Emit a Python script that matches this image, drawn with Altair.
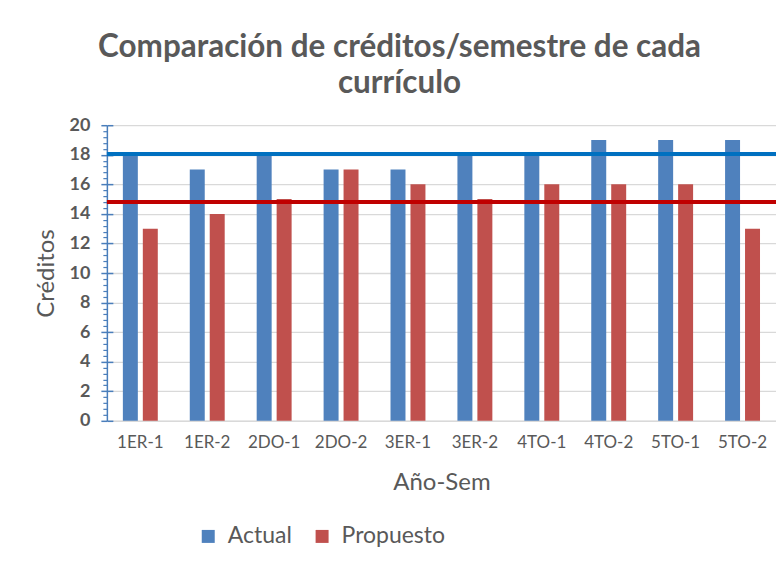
import altair as alt
import pandas as pd

categories = ["1ER-1", "1ER-2", "2DO-1", "2DO-2", "3ER-1", "3ER-2", "4TO-1", "4TO-2", "5TO-1", "5TO-2"]
actual = [18, 17, 18, 17, 17, 18, 18, 19, 19, 19]
propuesto = [13, 14, 15, 17, 16, 15, 16, 16, 16, 13]
series = ["Actual", "Propuesto"]
series_colors = ["#4f81bd", "#c0504d"]
ref_values = [18.05, 14.8]
ref_colors = ["#0070c0", "#c00000"]
y_major = [0, 2, 4, 6, 8, 10, 12, 14, 16, 18, 20]
y_minor = [0.4, 0.8, 1.2, 1.6, 2.4, 2.8, 3.2, 3.6, 4.4, 4.8, 5.2, 5.6, 6.4, 6.8, 7.2, 7.6,
           8.4, 8.8, 9.2, 9.6, 10.4, 10.8, 11.2, 11.6, 12.4, 12.8, 13.2, 13.6, 14.4, 14.8,
           15.2, 15.6, 16.4, 16.8, 17.2, 17.6, 18.4, 18.8, 19.2, 19.6]

rows = []
for c, a, p in zip(categories, actual, propuesto):
    rows.append({"sem": c, "serie": series[0], "val": a})
    rows.append({"sem": c, "serie": series[1], "val": p})
df = pd.DataFrame(rows)
ref_df = pd.DataFrame({"v": ref_values, "c": ref_colors})

FONT = "Lato"
GRAY = "#595959"
AXIS_BLUE = "#4a7ebb"
yscale = alt.Scale(domain=[0, 20], nice=False, zero=True)

bars = alt.Chart(df).mark_bar().encode(
    x=alt.X("sem:N", sort=categories,
            scale=alt.Scale(paddingInner=0.478, paddingOuter=0.239),
            axis=alt.Axis(title="Año-Sem", labelAngle=0, ticks=False, grid=False,
                          domainColor="#d9d9d9", domainWidth=1.5,
                          labelFontSize=17, labelColor=GRAY, labelPadding=14,
                          titleFontSize=24, titleColor=GRAY, titleFontWeight="normal",
                          titleY=62, titleBaseline="middle")),
    xOffset=alt.XOffset("serie:N", sort=series,
                        scale=alt.Scale(paddingInner=0.25, paddingOuter=0)),
    y=alt.Y("val:Q", scale=yscale,
            axis=alt.Axis(orient="left", values=y_major, title="Créditos",
                          grid=True, gridColor="#d9d9d9", gridWidth=1.3,
                          domainColor=AXIS_BLUE, domainWidth=1.5,
                          tickColor=AXIS_BLUE, tickSize=6, tickWidth=1.5,
                          labelFontSize=18, labelFontWeight="bold", labelColor=GRAY,
                          labelPadding=11,
                          titleFontSize=24, titleColor=GRAY, titleFontWeight="normal",
                          titleAngle=-90, titleX=-60, titleY=148,
                          titleAlign="center", titleBaseline="middle")),
    color=alt.Color("serie:N", scale=alt.Scale(domain=series, range=series_colors),
                    legend=alt.Legend(title=None, orient="none", legendX=90, legendY=400,
                                      direction="horizontal", symbolType="square",
                                      symbolSize=169, symbolStrokeWidth=0,
                                      labelFontSize=23, labelColor=GRAY, labelOffset=8,
                                      columnPadding=18)),
)

rules = alt.Chart(ref_df).mark_rule(strokeWidth=4).encode(
    y=alt.Y("v:Q", scale=yscale, axis=None),
    stroke=alt.Stroke("c:N", scale=None),
)

inner_ticks = alt.Chart(pd.DataFrame({"v": y_major})).mark_point(opacity=0).encode(
    y=alt.Y("v:Q", scale=yscale,
            axis=alt.Axis(orient="left", offset=-6, values=y_major, tickSize=6,
                          tickWidth=1.5, tickColor=AXIS_BLUE, domain=False,
                          labels=False, grid=False, title=None)),
)

minor_ticks = alt.Chart(pd.DataFrame({"v": y_minor})).mark_point(opacity=0).encode(
    y=alt.Y("v:Q", scale=yscale,
            axis=alt.Axis(orient="left", values=y_minor, tickSize=4,
                          tickWidth=1.2, tickColor=AXIS_BLUE, domain=False,
                          labels=False, grid=False, title=None)),
)

chart = alt.layer(bars, rules, inner_ticks, minor_ticks).resolve_axis(
    y="independent"
).properties(
    width=670,
    height=296,
    title=alt.TitleParams(
        text=["Comparación de créditos/semestre de cada", "currículo"],
        fontSize=31.5, font=FONT, fontWeight="bold", color=GRAY,
        anchor="middle", dx=-42, offset=17, lineHeight=36,
    ),
    autosize=alt.AutoSizeParams(type="none"),
    padding={"left": 99, "top": 117, "right": 0, "bottom": 136},
).configure(
    font=FONT,
).configure_view(
    stroke=None,
).configure_axis(
    labelFont=FONT, titleFont=FONT,
).configure_legend(
    labelFont=FONT,
)

chart.save("out.html", embed_options={"renderer": "svg", "actions": False})
